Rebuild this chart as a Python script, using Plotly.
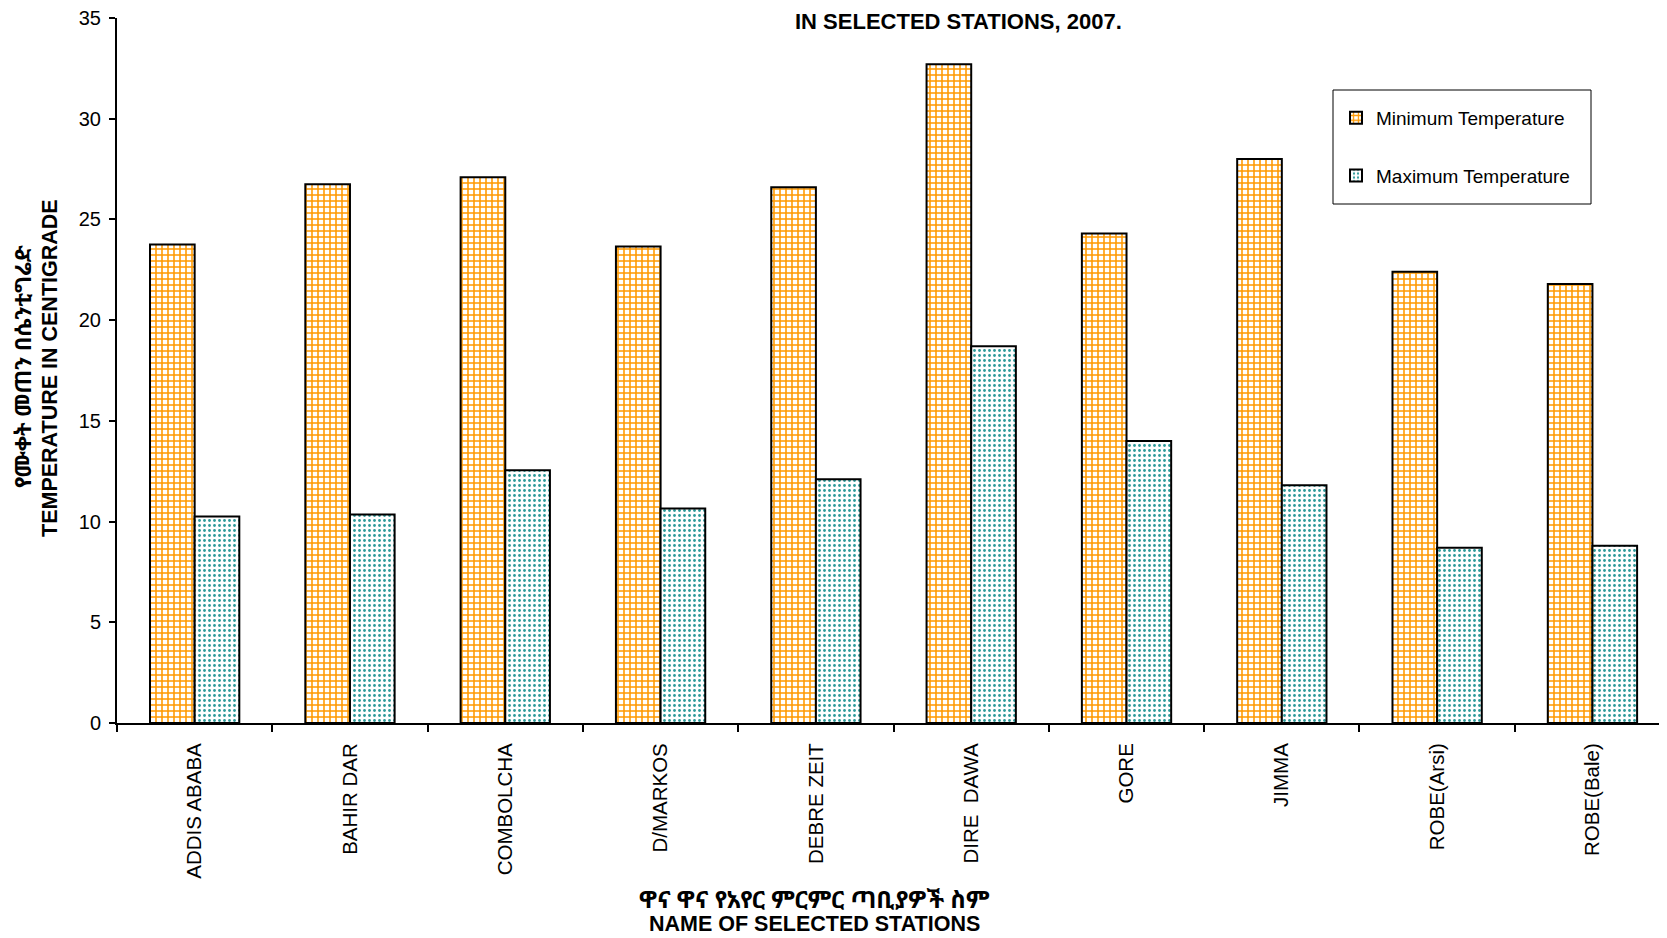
import plotly.graph_objects as go

stations = ["ADDIS ABABA", "BAHIR DAR", "COMBOLCHA", "D/MARKOS", "DEBRE ZEIT",
            "DIRE\u00a0\u00a0DAWA", "GORE", "JIMMA", "ROBE(Arsi)", "ROBE(Bale)"]
min_temp = [23.75, 26.75, 27.1, 23.65, 26.6, 32.7, 24.3, 28.0, 22.4, 21.8]
max_temp = [10.25, 10.35, 12.55, 10.65, 12.1, 18.7, 14.0, 11.8, 8.7, 8.8]

FONT = "Liberation Sans, Arial, sans-serif"
ETH = "Noto Sans Ethiopic, Abyssinica SIL, DejaVu Sans, FreeSerif, sans-serif"

# the page adds an 8px body margin; figure coordinates = page coordinates - 8
OFF = 8
W, H = 1667 - OFF, 938 - OFF
L, R, T = 117 - OFF, 0, 18 - OFF
B = H - (723 - OFF)
PW, PH = W - L - R, H - T - B


def px_x(x):
    return (x - OFF - L) / PW


def px_y(y):
    return (H - B - (y - OFF)) / PH


fig = go.Figure()
fig.add_trace(go.Bar(
    x=stations, y=min_temp, name="Minimum Temperature", legendgroup="a",
    marker=dict(color="white", line=dict(color="black", width=2),
                pattern=dict(shape="+", fgcolor="#FF9900", bgcolor="white",
                             size=6, solidity=0.45, fillmode="replace")),
))
fig.add_trace(go.Bar(
    x=stations, y=max_temp, name="Maximum Temperature", legendgroup="b",
    marker=dict(color="white", line=dict(color="black", width=2),
                pattern=dict(shape=".", fgcolor="#2E9A9A", bgcolor="white",
                             size=5, solidity=0.25, fillmode="replace")),
))

annotations = [
    dict(text="<b>IN SELECTED STATIONS, 2007.</b>", x=px_x(958), y=px_y(OFF + 0.5),
         xref="paper", yref="paper", showarrow=False, xanchor="center", yanchor="top",
         borderpad=0, font=dict(family=FONT, size=22, color="black")),
    dict(text="<b>ዋና ዋና የአየር ምርምር ጣቢያዎች ስም</b>", x=px_x(814), y=px_y(898),
         xref="paper", yref="paper", showarrow=False, xanchor="center", yanchor="middle",
         font=dict(family=ETH, size=24, color="black")),
    dict(text="<b>NAME OF SELECTED STATIONS</b>", x=px_x(814), y=px_y(924),
         xref="paper", yref="paper", showarrow=False, xanchor="center", yanchor="middle",
         font=dict(family=FONT, size=21.5, color="black")),
    dict(text="<b>የሙቀት መጠን በሴንቲግሬድ</b>", x=px_x(22), y=px_y(367),
         xref="paper", yref="paper", showarrow=False, xanchor="center", yanchor="middle",
         textangle=-90, font=dict(family=ETH, size=22, color="black")),
    dict(text="<b>TEMPERATURE IN CENTIGRADE</b>", x=px_x(50), y=px_y(368),
         xref="paper", yref="paper", showarrow=False, xanchor="center", yanchor="middle",
         textangle=-90, font=dict(family=FONT, size=21.5, color="black")),
]

shapes = [
    dict(type="rect", xref="paper", yref="paper",
         x0=px_x(1333), x1=px_x(1591), y0=px_y(204), y1=px_y(90),
         line=dict(color="black", width=1), fillcolor="rgba(0,0,0,0)", layer="above"),
]

fig.update_layout(
    width=W, height=H,
    margin=dict(l=L, r=R, t=T, b=B, autoexpand=False),
    paper_bgcolor="white", plot_bgcolor="white",
    barmode="group", bargap=0.425, bargroupgap=0,
    font=dict(family=FONT, size=20, color="black"),
    showlegend=True,
    legend=dict(x=px_x(1336), y=px_y(99), xanchor="left", yanchor="top",
                borderwidth=0, bgcolor="rgba(0,0,0,0)",
                font=dict(family=FONT, size=19, color="black"),
                tracegroupgap=30, traceorder="grouped", itemwidth=30),
    annotations=annotations,
    shapes=shapes,
    xaxis=dict(range=[-0.5, 9.48], showline=True, linecolor="black", linewidth=2,
               ticks="outside", tickson="boundaries", ticklen=7, tickwidth=2,
               tickcolor="black", tickangle=-90, showgrid=False, zeroline=False,
               ticklabelstandoff=10, ticklabeloverflow="allow",
               tickfont=dict(family=FONT, size=20.5, color="black")),
    yaxis=dict(range=[0, 35], dtick=5, showline=True, linecolor="black", linewidth=2,
               ticks="outside", ticklen=6, tickwidth=2, tickcolor="black",
               showgrid=False, zeroline=False, ticklabelstandoff=4,
               ticklabeloverflow="allow",
               tickfont=dict(family=FONT, size=20, color="black")),
)

fig.write_html("out.html")
